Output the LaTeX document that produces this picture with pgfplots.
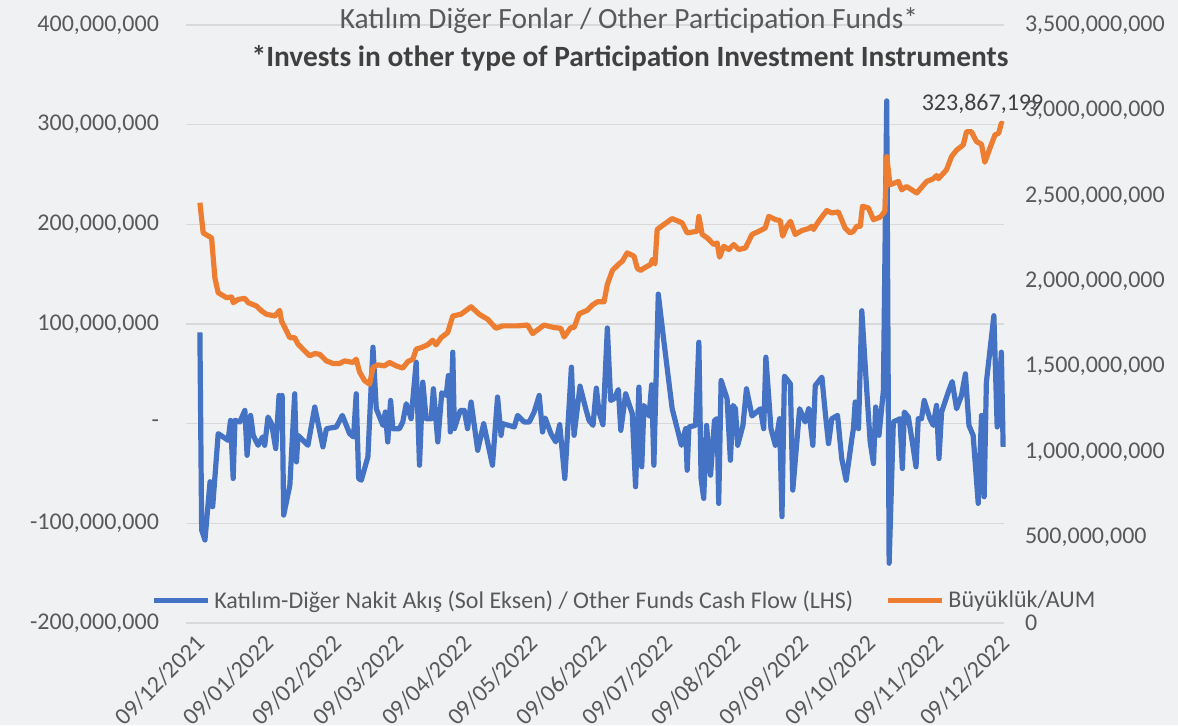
\documentclass[border=0pt]{standalone}
\usepackage{fontspec}
\setmainfont{Carlito}
\usepackage{pgfplots}
\pgfplotsset{compat=1.18}
\definecolor{flowBlue}{HTML}{4472C4}
\definecolor{aumOrange}{HTML}{ED7D31}
\definecolor{gridGray}{HTML}{D9D9D9}
\definecolor{txtGray}{HTML}{595959}
\definecolor{ttlGray}{HTML}{404040}
\definecolor{bgGray}{HTML}{F0F1F3}

\begin{document}
\begin{tikzpicture}
\fill[bgGray] (0,0) rectangle (589pt,362.5pt);
\path[use as bounding box] (0,0) rectangle (589pt,362.5pt);

% left axis: weekly cash flow, millions TRY
\begin{axis}[
	at={(93pt,51pt)}, anchor=south west,
	width=409pt, height=299pt, scale only axis,
	xmin=0, xmax=371,
	ymin=-200, ymax=400,
	axis line style={draw=none},
	major tick length=0pt,
	ytick={-200,-100,0,100,200,300,400},
	yticklabels={{-200,000,000},{-100,000,000},-,{100,000,000},{200,000,000},{300,000,000},{400,000,000}},
	yticklabel style={font=\fontsize{12}{14}\selectfont, text=txtGray, xshift=-10pt},
	xtick={0,31,62,90,121,151,182,212,243,274,304,335,365},
	xticklabels={09/12/2021,09/01/2022,09/02/2022,09/03/2022,09/04/2022,09/05/2022,09/06/2022,09/07/2022,09/08/2022,09/09/2022,09/10/2022,09/11/2022,09/12/2022},
	xticklabel style={font=\fontsize{12}{14}\selectfont, text=txtGray, rotate=45, anchor=east, yshift=-11pt, xshift=3pt},
	ymajorgrids,
	major grid style={draw=gridGray, line width=0.75pt},
	clip=false,
]
\addplot[flowBlue, line width=2.6pt, line join=round] coordinates {
(6.3,91.7) (7.1,-106.7) (8.6,-116.7) (10.9,-58.3) (12.1,-83.3) (14.6,-10)
(19.1,-16.7) (20.2,3.3) (21.4,-55) (22.2,3.3) (24.4,1.7) (26.7,13.3)
(27.7,-31.7) (29.3,8.3) (30.5,-11.7) (32.7,-21.7) (34.7,-13.3) (35.7,-21.7)
(37.2,6.7) (38.8,0) (40.7,-25) (42.2,28.3) (43.0,2) (43.6,28.3) (44.3,-91.7)
(47.1,-61.7) (49.3,30) (50.1,-38.3) (50.8,-11.7) (55.3,-21.7) (58.4,16.7)
(62.1,-23.3) (63.7,-5) (68.2,-3.3) (70.9,8.3) (74.2,-10) (76.0,-13.3)
(77.2,30) (78.3,-55) (79.5,-56.7) (82.5,-33.3) (84.8,76.7) (86.3,15)
(89.3,-1.7) (90.4,11.7) (91.5,-18.3) (92.8,23.3) (93.8,-5) (96.8,-5)
(98.3,1.7) (99.9,20) (102.1,5) (104.4,61.7) (105.9,-41.7) (107.4,41.7)
(108.9,5) (111.2,5) (112.2,35) (114.2,-18.3) (116.0,31) (118.0,28.3)
(119.0,48.3) (119.9,-8.3) (121.0,71.7) (121.7,-5) (124.4,13.3) (126.2,13.3)
(127.7,-5) (129.3,21.7) (132.3,-26.7) (135.0,0) (139.0,-41.7) (141.3,26.7)
(142.9,-11.7) (143.6,0) (148.9,-3.3) (150.4,8.3) (152.6,3.3) (153.4,1.7)
(155.7,1.7) (157.9,11.7) (160.2,28.3) (161.7,-8.3) (162.9,5.7) (165.5,-10)
(167.7,-18.3) (169.5,-1) (171.8,-55) (174.8,56.7) (176.0,-11.7) (178.7,37.7)
(181.3,15) (182.8,3.3) (184.6,-1.7) (186.1,35.7) (187.3,11.7) (189.1,-1)
(191.1,96) (192.6,23.3) (194.1,25) (196.1,34.3) (197.2,-6.7) (199.4,30)
(202.4,10) (203.9,-63.3) (205.4,36.7) (206.7,-43.3) (207.7,18.3) (210.0,7.7)
(211.2,39) (212.2,-41.7) (214.2,130) (216.7,83.3) (220.5,15) (224.7,-21.7)
(226.6,-5) (227.3,-46.7) (228.1,-3.3) (231.1,-1.7) (232.6,81.7) (233.6,-55)
(234.8,-75) (236.1,-1.7) (237.9,-51.7) (239.7,3.3) (240.9,5) (241.6,-80)
(242.7,43.3) (245.4,25) (246.9,-36.7) (248.1,18.3) (249.2,15) (250.2,-21.7)
(252.6,-1.7) (254.2,35) (256.7,7.7) (260.5,15) (262.0,-5) (263.0,66.7)
(265.3,-5) (267.3,-21.7) (269.2,5) (270.3,-93.3) (271.4,47.7) (274.1,40)
(275.2,-66.7) (278.3,15) (280.8,1.7) (282.4,15) (284.3,-21.7) (285.4,38.3)
(288.4,46.7) (289.9,11.7) (291.4,-20) (292.9,5) (295.5,8.3) (297.4,-35)
(299.4,-56.7) (302.0,-15) (302.7,-5) (303.5,21.7) (305.0,-5) (306.5,113.3)
(308.7,35) (310.3,-18.3) (311.8,-40) (312.8,16.7) (314.3,-11.7) (316.3,33.3)
(317.8,323.867199) (318.9,-140) (320.8,1.7) (323.8,5) (324.9,-45) (325.8,11.7)
(327.6,6.7) (329.4,-18.3) (331.1,-43.3) (332.1,5) (333.6,5) (334.8,23.3)
(337.4,5) (338.9,-1.7) (340.4,18.3) (341.5,-35) (342.7,11.7) (345.7,31.7)
(347.5,42.3) (349.5,15) (351.7,28.3) (353.5,50) (355.1,-1.7) (357.0,-11.7)
(359.3,-80) (360.8,8.3) (362.0,-73.3) (363.0,41.7) (366.4,108.3) (367.9,-3.3)
(369.8,71.7) (370.6,-23.3)
};
\node[anchor=west, font=\fontsize{12}{14}\selectfont, text=ttlGray, xshift=14pt]
	at (axis cs:317.8,321) {323,867,199};
\end{axis}

% right axis: assets under management, millions TRY
\begin{axis}[
	at={(93pt,51pt)}, anchor=south west,
	width=409pt, height=299pt, scale only axis,
	xmin=0, xmax=371,
	ymin=0, ymax=3500,
	hide x axis,
	axis y line*=right,
	axis line style={draw=none},
	major tick length=0pt,
	ytick={0,500,1000,1500,2000,2500,3000,3500},
	yticklabels={0,{500,000,000},{1,000,000,000},{1,500,000,000},{2,000,000,000},{2,500,000,000},{3,000,000,000},{3,500,000,000}},
	yticklabel style={font=\fontsize{12}{14}\selectfont, text=txtGray, xshift=7pt},
	legend style={at={(0.537,0.037)}, anchor=center, draw=none, fill=none,
		font=\fontsize{12}{14}\selectfont, text=txtGray,
		/tikz/every even column/.append style={column sep=14pt}},
	legend columns=2,
	legend image code/.code={\draw[#1] (0pt,0pt) -- (27pt,0pt);},
	clip=false,
]
\addlegendimage{flowBlue, line width=2.6pt}
\addlegendentry{Katılım-Diğer Nakit Akış (Sol Eksen) / Other Funds Cash Flow (LHS)}
\addplot[aumOrange, line width=2.6pt, line join=round] coordinates {
(6.3,2460) (7.8,2283) (11.6,2254) (13.1,2020) (14.6,1933) (18.4,1904)
(20.7,1908) (21.4,1875) (23.7,1894) (26.7,1900) (28.2,1875) (32.0,1855)
(34.3,1826) (36.5,1807) (40.3,1797) (42.5,1830) (43.3,1768) (47.1,1670)
(49.3,1670) (50.8,1632) (53.8,1593) (56.1,1564) (58.4,1577) (60.6,1573)
(63.7,1534) (66.7,1519) (69.7,1519) (71.9,1534) (75.7,1525) (77.2,1544)
(78.7,1470) (81.0,1418) (83.3,1398) (84.8,1496) (87.0,1511) (90.0,1505)
(92.3,1525) (95.3,1505) (98.3,1492) (100.6,1530) (102.9,1544) (104.4,1603)
(106.7,1612) (109.6,1628) (111.9,1655) (113.4,1628) (115.7,1670) (118.7,1700)
(121.0,1797) (124.7,1807) (129.3,1851) (133.0,1807) (136.8,1778) (140.6,1725)
(143.6,1739) (150.4,1739) (154.9,1744) (157.2,1694) (162.4,1744) (167.0,1729)
(170.0,1725) (171.5,1674) (174.5,1729) (176.0,1729) (178.3,1810) (182.0,1830)
(184.3,1861) (186.6,1880) (189.6,1880) (191.1,1982) (193.4,2064) (196.4,2102)
(197.9,2118) (200.1,2166) (203.2,2147) (204.7,2075) (206.2,2064) (208.5,2083)
(210.7,2098) (211.5,2127) (212.7,2102) (213.7,2303) (216.7,2332) (220.5,2367)
(225.0,2342) (227.3,2283) (231.8,2293) (232.6,2380) (234.1,2274) (236.4,2254)
(239.4,2215) (240.9,2225) (242.0,2141) (243.9,2205) (246.2,2186) (248.4,2215)
(250.7,2186) (253.7,2195) (256.7,2274) (260.5,2297) (262.7,2312) (264.3,2380)
(267.3,2361) (269.5,2355) (270.6,2264) (272.5,2322) (274.1,2351) (276.3,2274)
(279.3,2297) (282.4,2309) (283.9,2322) (284.6,2303) (286.9,2351) (290.6,2414)
(292.9,2400) (295.9,2406) (298.9,2312) (301.2,2283) (302.7,2293) (304.2,2322)
(305.8,2322) (306.8,2439) (309.5,2429) (311.8,2361) (314.8,2375) (317.0,2410)
(317.8,2730) (319.3,2565) (323.1,2584) (324.6,2535) (326.8,2555) (331.4,2517)
(335.9,2584) (338.9,2600) (340.4,2619) (341.2,2600) (344.9,2652) (347.2,2730)
(349.5,2768) (352.5,2798) (354.0,2876) (356.2,2876) (358.5,2818) (360.8,2802)
(362.3,2697) (364.6,2779) (366.9,2857) (368.6,2867) (369.8,2925) (370.7,2919)
};
\addlegendentry{Büyüklük/AUM}
\end{axis}

\node[font=\fontsize{14.7}{17}\selectfont, text=txtGray] at (629pt/2,352pt)
	{Katılım Diğer Fonlar / Other Participation Funds*};
\node[font=\fontsize{14.7}{17}\selectfont\bfseries, text=ttlGray] at (630pt/2,333.5pt)
	{*Invests in other type of Participation Investment Instruments};
\end{tikzpicture}
\end{document}
